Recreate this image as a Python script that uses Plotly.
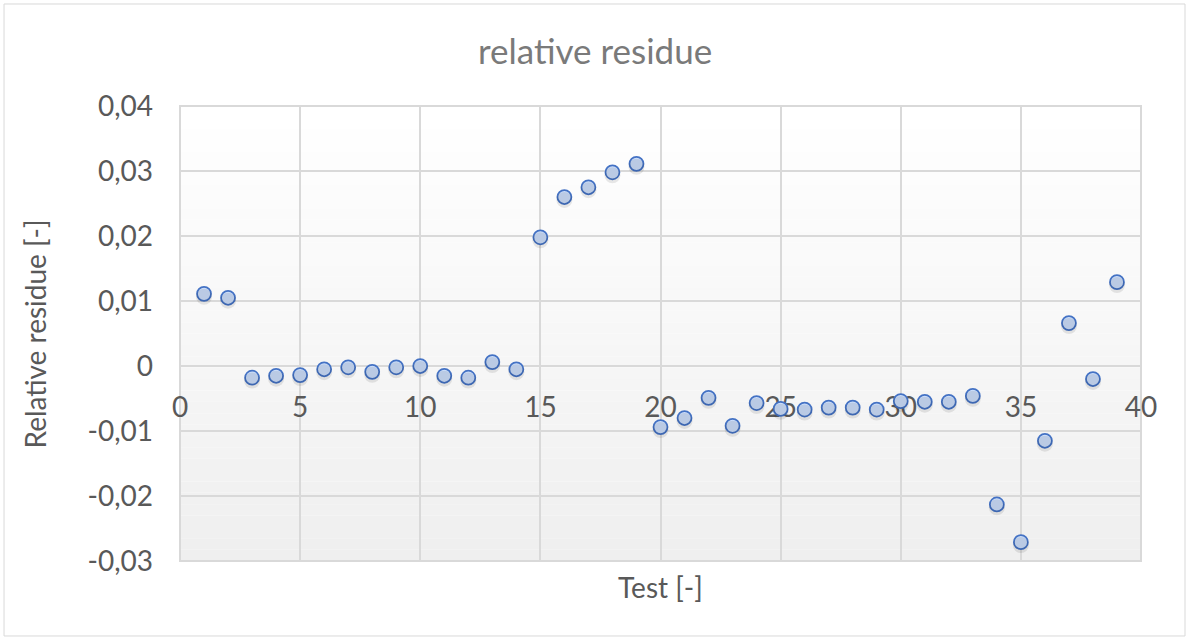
import plotly.graph_objects as go

# test number and relative residue
test = [1, 2, 3, 4, 5, 6, 7, 8, 9, 10, 11, 12, 13, 14, 15, 16, 17, 18, 19, 20,
        21, 22, 23, 24, 25, 26, 27, 28, 29, 30, 31, 32, 33, 34, 35, 36, 37, 38, 39]
residue = [0.0111, 0.0105, -0.0018, -0.0015, -0.0014, -0.0005, -0.0002, -0.0009,
           -0.0002, 0.0000, -0.0015, -0.0018, 0.0006, -0.0005, 0.0198, 0.0260,
           0.0275, 0.0298, 0.0311, -0.0094, -0.0080, -0.0049, -0.0092, -0.0057,
           -0.0066, -0.0067, -0.0064, -0.0064, -0.0067, -0.0054, -0.0055, -0.0055,
           -0.0046, -0.0213, -0.0271, -0.0115, 0.0066, -0.0020, 0.0129]

y_ticks = [-0.03, -0.02, -0.01, 0, 0.01, 0.02, 0.03, 0.04]
y_labels = ["-0,03", "-0,02", "-0,01", "0", "0,01", "0,02", "0,03", "0,04"]
x_ticks = [0, 5, 10, 15, 20, 25, 30, 35, 40]
x_labels = ["0", "5", "10", "15", "20", "25", "30", "35", "40"]

FONT = "Lato"
LABEL = "#595959"
GRID = "#d9d9d9"
y_range = [-0.03, 0.04]
shadow_shift = 0.00045  # about 3 px

fig = go.Figure()

# soft shadow under the markers, drawn on a slightly shifted overlay axis
fig.add_trace(
    go.Scatter(
        x=test,
        y=residue,
        mode="markers",
        marker=dict(size=16, color="rgba(0,0,0,0.09)", line=dict(width=0)),
        yaxis="y2",
        hoverinfo="skip",
        showlegend=False,
    )
)

fig.add_trace(
    go.Scatter(
        x=test,
        y=residue,
        mode="markers",
        name="relative residue",
        marker=dict(
            size=14,
            color="#cddffb",
            line=dict(width=1.75, color="#4472c4"),
        ),
        showlegend=False,
    )
)

# plot area gradient: white at the top to light grey at the bottom
shapes = []
n = 40
for i in range(n):
    t = i / (n - 1)
    c = int(round(255 - (255 - 239) * t))
    shapes.append(dict(
        type="rect", xref="paper", yref="paper", layer="below",
        x0=0, x1=1, y0=1 - (i + 1) / n, y1=1 - i / n,
        fillcolor=f"rgb({c},{c},{c})", line=dict(width=0),
    ))
shapes.append(dict(type="rect", xref="paper", yref="paper", layer="below",
                   x0=0, x1=1, y0=0, y1=1, line=dict(color=GRID, width=2)))
shapes.append(dict(type="rect", xref="paper", yref="paper", layer="below",
                   x0=-0.1831, x1=1.0458, y0=-0.1648, y1=1.2242,
                   line=dict(color=GRID, width=1)))

fig.update_layout(
    width=1186,
    height=637,
    margin=dict(l=180, r=45, t=106, b=76),
    paper_bgcolor="white",
    plot_bgcolor="rgba(0,0,0,0)",
    font=dict(family=FONT, color=LABEL),
    shapes=shapes,
    xaxis=dict(
        range=[0, 40],
        tickvals=x_ticks,
        ticktext=x_labels,
        anchor="free",
        position=3 / 7,
        showline=False,
        showgrid=True,
        gridcolor=GRID,
        gridwidth=2,
        zeroline=False,
        ticks="",
        ticklabelstandoff=22,
        tickfont=dict(size=28, color=LABEL, family=FONT),
        layer="below traces",
    ),
    yaxis=dict(
        range=y_range,
        tickvals=y_ticks,
        ticktext=y_labels,
        showline=False,
        showgrid=True,
        gridcolor=GRID,
        gridwidth=2,
        zeroline=False,
        ticks="",
        ticklabelstandoff=26,
        tickfont=dict(size=28, color=LABEL, family=FONT),
        layer="below traces",
    ),
    yaxis2=dict(
        range=[y_range[0] + shadow_shift, y_range[1] + shadow_shift],
        overlaying="y",
        visible=False,
    ),
    annotations=[
        dict(text="relative residue", xref="paper", yref="paper",
             x=0.4318, y=1.123, xanchor="center", yanchor="middle",
             showarrow=False, font=dict(size=35, color="#7a7a7a", family=FONT)),
        dict(text="Relative residue [-]", xref="paper", yref="paper",
             x=-0.1509, y=0.5, xanchor="center", yanchor="middle", textangle=-90,
             showarrow=False, font=dict(size=28, color=LABEL, family=FONT)),
        dict(text="Test [-]", xref="paper", yref="paper",
             x=0.5, y=-0.0571, xanchor="center", yanchor="middle",
             showarrow=False, font=dict(size=28, color=LABEL, family=FONT)),
    ],
)

# drop the default page margin so the chart sits at the window's corner
fig.write_html(
    "out.html",
    config={"displayModeBar": False},
    post_script="document.body.style.margin='0';",
)
